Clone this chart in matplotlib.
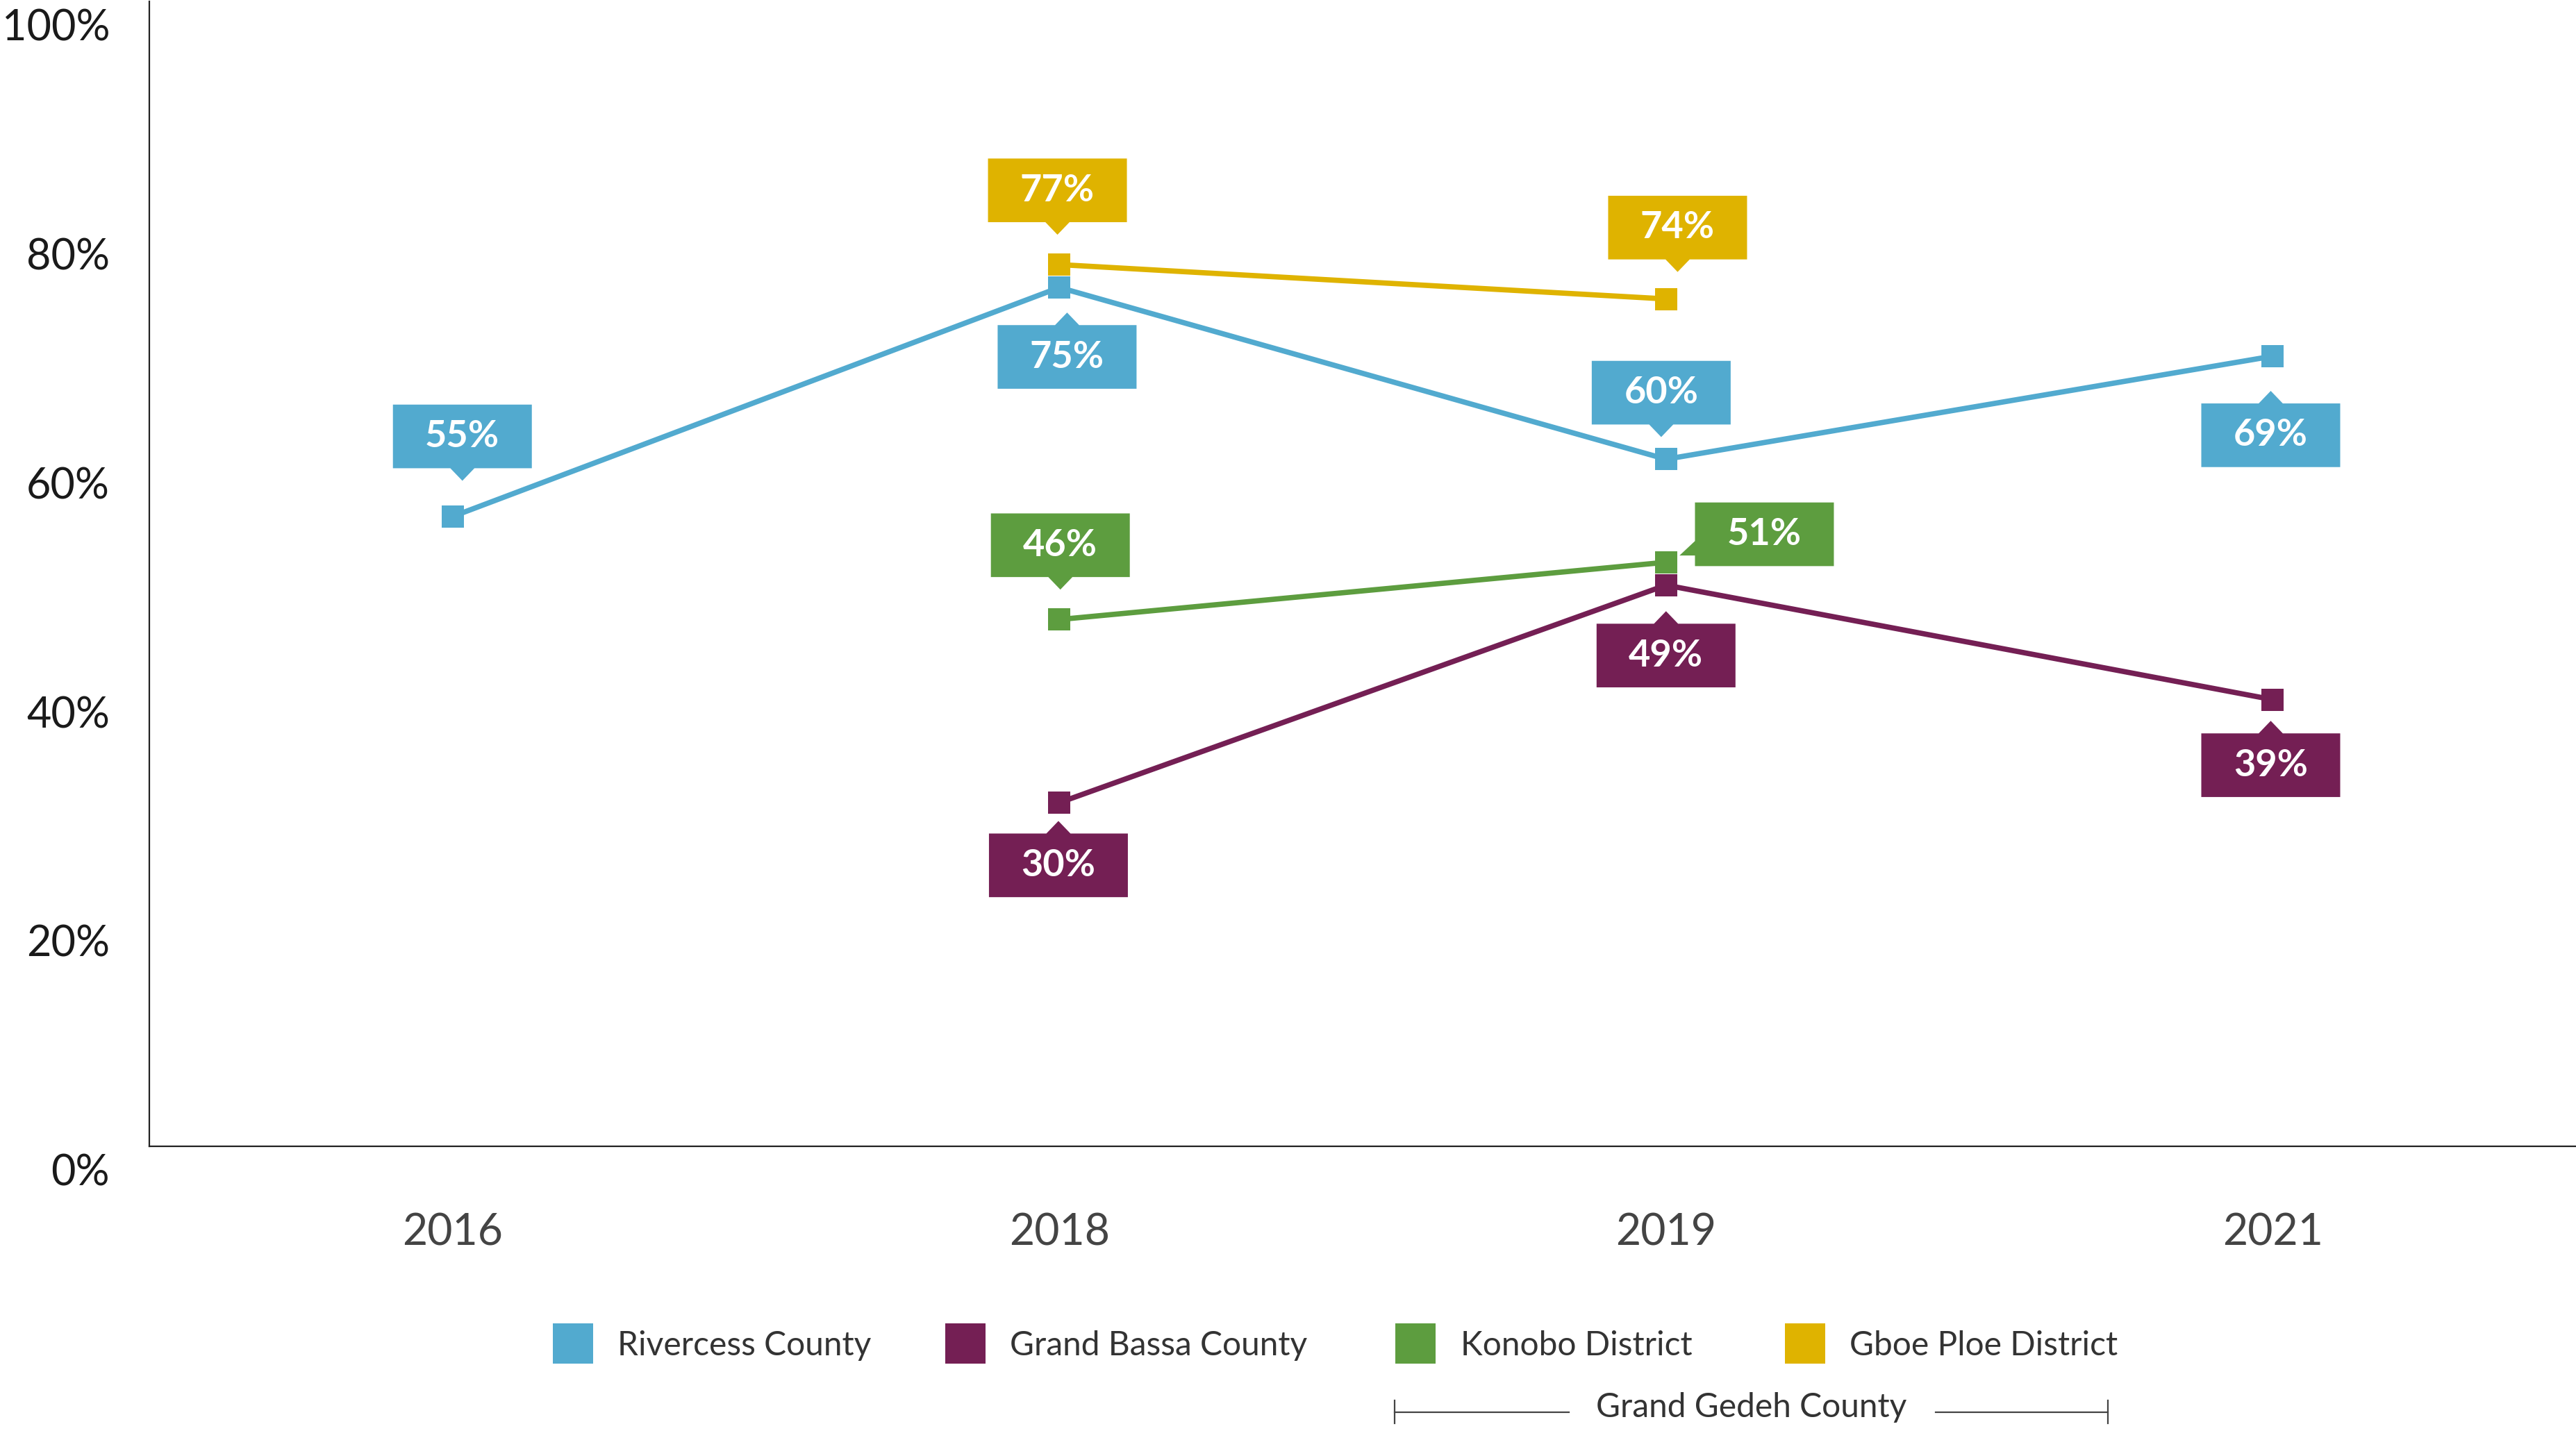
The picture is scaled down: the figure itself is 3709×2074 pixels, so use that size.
import numpy as np
import matplotlib
matplotlib.use('Agg')
import matplotlib.pyplot as plt
from matplotlib.patches import Polygon
from matplotlib.lines import Line2D
from matplotlib import transforms

plt.rcParams['font.family'] = ['Lato', 'DejaVu Sans']

# ---- data ----
years = ['2016', '2018', '2019', '2021']
rivercess = [55, 75, 60, 69]
grand_bassa = [np.nan, 30, 49, 39]
konobo = [np.nan, 46, 51, np.nan]
gboe_ploe = [np.nan, 77, 74, np.nan]
series_names = ['Rivercess County', 'Grand Bassa County',
                'Konobo District', 'Gboe Ploe District']
group_label = 'Grand Gedeh County'
y_ticks = [0, 20, 40, 60, 80, 100]

colors = ['#52AACF', '#741F54', '#5D9D3F', '#DFB300']
series = [rivercess, grand_bassa, konobo, gboe_ploe]

# callout placement: (series idx, year idx, dx pt, dy pt, pointer side)
callouts = [
    (0, 0, 10, 83, 'down'),
    (0, 1, 8, -72, 'up'),
    (0, 2, -5, 69, 'down'),
    (0, 3, -2, -82, 'up'),
    (3, 1, -2, 77, 'down'),
    (3, 2, 12, 74, 'down'),
    (2, 1, 1, 77, 'down'),
    (2, 2, 102, 29, 'left'),
    (1, 1, -1, -65, 'up'),
    (1, 2, 0, -73, 'up'),
    (1, 3, -2, -68, 'up'),
]

BOX_W, BOX_H = 144, 66   # points
PW, PH = 12.5, 13        # pointer half-base / height

# legend entry left edges (figure fraction)
legend_x = [0.2143, 0.3667, 0.5415, 0.6926]


def callout_shape(side, dx, dy):
    w, h = BOX_W / 2, BOX_H / 2
    if side == 'down':
        pts = [(-w, h), (w, h), (w, -h), (PW, -h), (0, -h - PH), (-PW, -h), (-w, -h)]
    elif side == 'up':
        pts = [(-w, -h), (w, -h), (w, h), (PW, h), (0, h + PH), (-PW, h), (-w, h)]
    else:  # left
        pts = [(-w, h), (w, h), (w, -h), (-w, -h), (-w, -22), (-w - 16, -22), (-w, -7)]
    return [(px + dx, py + dy) for px, py in pts]


fig = plt.figure(figsize=(37.09, 20.74), dpi=100)
ax = fig.add_axes([0.058, 0.2041, 0.942, 0.795])

for vals, c in zip(series, colors):
    ax.plot(range(len(years)), vals, color=c, lw=5.5, marker='s',
            markersize=23, markeredgewidth=0, zorder=3)

ax.set_xlim(-0.5, 3.5)
ax.set_ylim(0, 100)
ax.set_xticks(range(len(years)), years)
ax.set_yticks([])
ax.tick_params(axis='x', length=0, pad=69, labelsize=45, labelcolor='#444444')

for side in ['top', 'right']:
    ax.spines[side].set_visible(False)
for side in ['left', 'bottom']:
    ax.spines[side].set_linewidth(1.6)
    ax.spines[side].set_color('#222222')

# y labels sit just below their gridline value
for v in y_ticks:
    ax.annotate(f'{v}%', xy=(0, v), xycoords=('axes fraction', 'data'),
                xytext=(-41, -41), textcoords='offset points',
                ha='right', va='baseline', fontsize=44,
                color='#1a1a1a', annotation_clip=False)

# callout boxes
to_pts = transforms.Affine2D().scale(1 / 72) + fig.dpi_scale_trans
for si, xi, dx, dy, side in callouts:
    val = series[si][xi]
    trans = to_pts + transforms.ScaledTranslation(xi, val, ax.transData)
    poly = Polygon(callout_shape(side, dx, dy), closed=True, transform=trans,
                   facecolor=colors[si], edgecolor='none', zorder=5)
    ax.add_patch(poly)
    ax.annotate(f'{val:.0f}%', xy=(xi, val), xytext=(dx, dy),
                textcoords='offset points', ha='center', va='center',
                fontsize=39, fontweight='bold', color='white', zorder=6)

# legend: one entry per legend so the uneven spacing can be matched
for name, c, lx in zip(series_names, colors, legend_x):
    h = Line2D([], [], marker='s', ls='', color=c, markersize=42,
               markeredgewidth=0)
    fig.legend([h], [name], loc='center left', bbox_to_anchor=(lx, 0.0656),
               frameon=False, fontsize=34.5, handlelength=1.25,
               handletextpad=0.72, borderpad=0, borderaxespad=0,
               labelcolor='#333333')

# bracket grouping the two districts
bcol = '#444444'
fig.add_artist(Line2D([0.5415, 0.6091], [0.0194, 0.0194], color=bcol,
                      lw=1.6, transform=fig.transFigure))
fig.add_artist(Line2D([0.7513, 0.8182], [0.0194, 0.0194], color=bcol,
                      lw=1.6, transform=fig.transFigure))
for bx in [0.5415, 0.8182]:
    fig.add_artist(Line2D([bx, bx], [0.0114, 0.0274], color=bcol,
                          lw=1.6, transform=fig.transFigure))
fig.text(0.6798, 0.0228, group_label, ha='center', va='center',
         fontsize=34.5, color='#333333')

fig.savefig('out.png', dpi=100)
